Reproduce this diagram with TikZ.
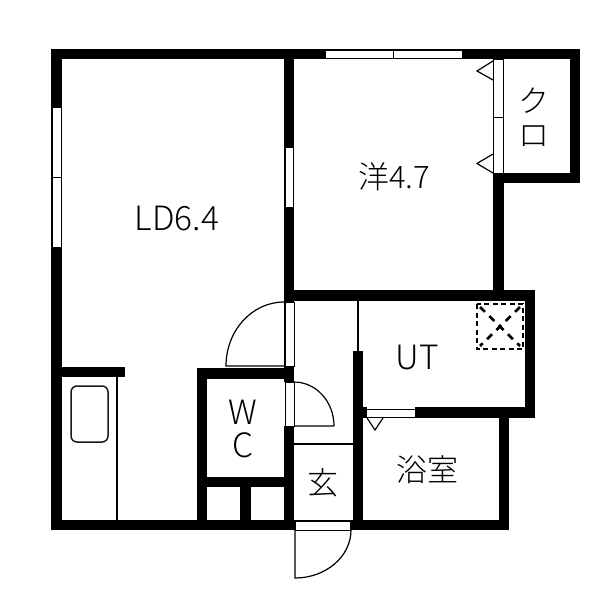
\documentclass[tikz,border=0pt]{standalone}
\usepackage{fontspec}
\setmainfont{Noto Sans CJK JP Light}
\tikzset{
	wall/.style={fill=black},
	glass/.style={fill=white,draw=black,line width=1pt},
	thinline/.style={draw=black,line width=1.2pt},
	roomlabel/.style={inner sep=0pt,align=center,font=\fontsize{31}{34}\selectfont},
	latinlabel/.style={roomlabel,font=\fontsize{33.5}{33}\selectfont},
}
\begin{document}
\begin{tikzpicture}[x=1pt,y=-1pt]
	\useasboundingbox (0,0) rectangle (600,600);
	\foreach \xa/\ya/\xb/\yb in {51/49/580/59,51/49/62/530,51/520/509/530,570/49/580/183,493/173/580/183,493/173/504/301,284/49/294/382,284/290/535/301,525/290/535/418,415/407/535/418,499/407/509/530,51/367/125/377,197/368/294/379,197/368/207/530,197/477/294/487,240/477/251/530,284/426/294/530,353/351/363/530,363/407/367/418}
		\fill [wall] (\xa,\ya) rectangle (\xb,\yb);
	\foreach \xa/\ya/\xb/\yb in {325/50/393/58.5,393/50/462/58.5,52/107/61.5/177,52/177/61.5/247,285/147/293.5/207,493.5/59/503/117,493.5/117/503/173,285/302/294/366,285/382/294/426,366/409/415/417,295/521/350.5/530}
		\draw [glass] (\xa,\ya) rectangle (\xb,\yb);
	\coordinate (ldhinge) at (284,366);
	\coordinate (ldtip) at (226,366);
	\coordinate (wchinge) at (294,426);
	\coordinate (wctip) at (334,426);
	\coordinate (doorhinge) at (295,530);
	\coordinate (doortip) at (295,578);
	\coordinate (utwalltop) at (358,301);
	\coordinate (utwallend) at (358,351);
	\coordinate (halla) at (294,444);
	\coordinate (hallb) at (353,444);
	\coordinate (unita) at (117,377);
	\coordinate (unitb) at (117,520);
	\draw [thinline] (ldhinge) -- (ldtip) arc [start angle=180,end angle=90,x radius=58,y radius=-64];
	\draw [thinline] (wctip) -- (wchinge) (wctip) arc [start angle=0,end angle=90,x radius=40,y radius=-44];
	\draw [thinline] (doorhinge) -- (doortip) arc [start angle=90,end angle=0,x radius=56,y radius=48];
	\draw [thinline] (utwalltop) -- (utwallend);
	\draw [thinline] (halla) -- (hallb);
	\draw [thinline] (unita) -- (unitb);
	\draw [thinline] (493,61) -- (477,71) -- (493,80);
	\draw [thinline] (493,154) -- (477,163.5) -- (493,173);
	\draw [thinline] (367,418) -- (375,430) -- (383,418);
	\draw [draw=black!90,line width=1.5pt,rounded corners=6pt] (71,386) rectangle (108,442);
	\draw [black,line width=2.6pt,dash pattern=on 5pt off 3.5pt] (477,304) rectangle (523,349);
	\draw [black,line width=2.6pt,dash pattern=on 7pt off 6pt] (480,307) -- (520,346) (520,307) -- (480,346);
	\node (ld) [latinlabel] at (177,219) {LD6.4};
	\node (yo) [roomlabel] at (394,177) {洋4.7};
	\node (kuro) [roomlabel] at (534,117) {ク\\ロ};
	\node (ut) [latinlabel] at (417,358) {UT};
	\node (wc) [latinlabel] at (243,429) {W\\C};
	\node (gen) [roomlabel] at (323,483) {玄};
	\node (bath) [roomlabel] at (427,470) {浴室};
\end{tikzpicture}
\end{document}
